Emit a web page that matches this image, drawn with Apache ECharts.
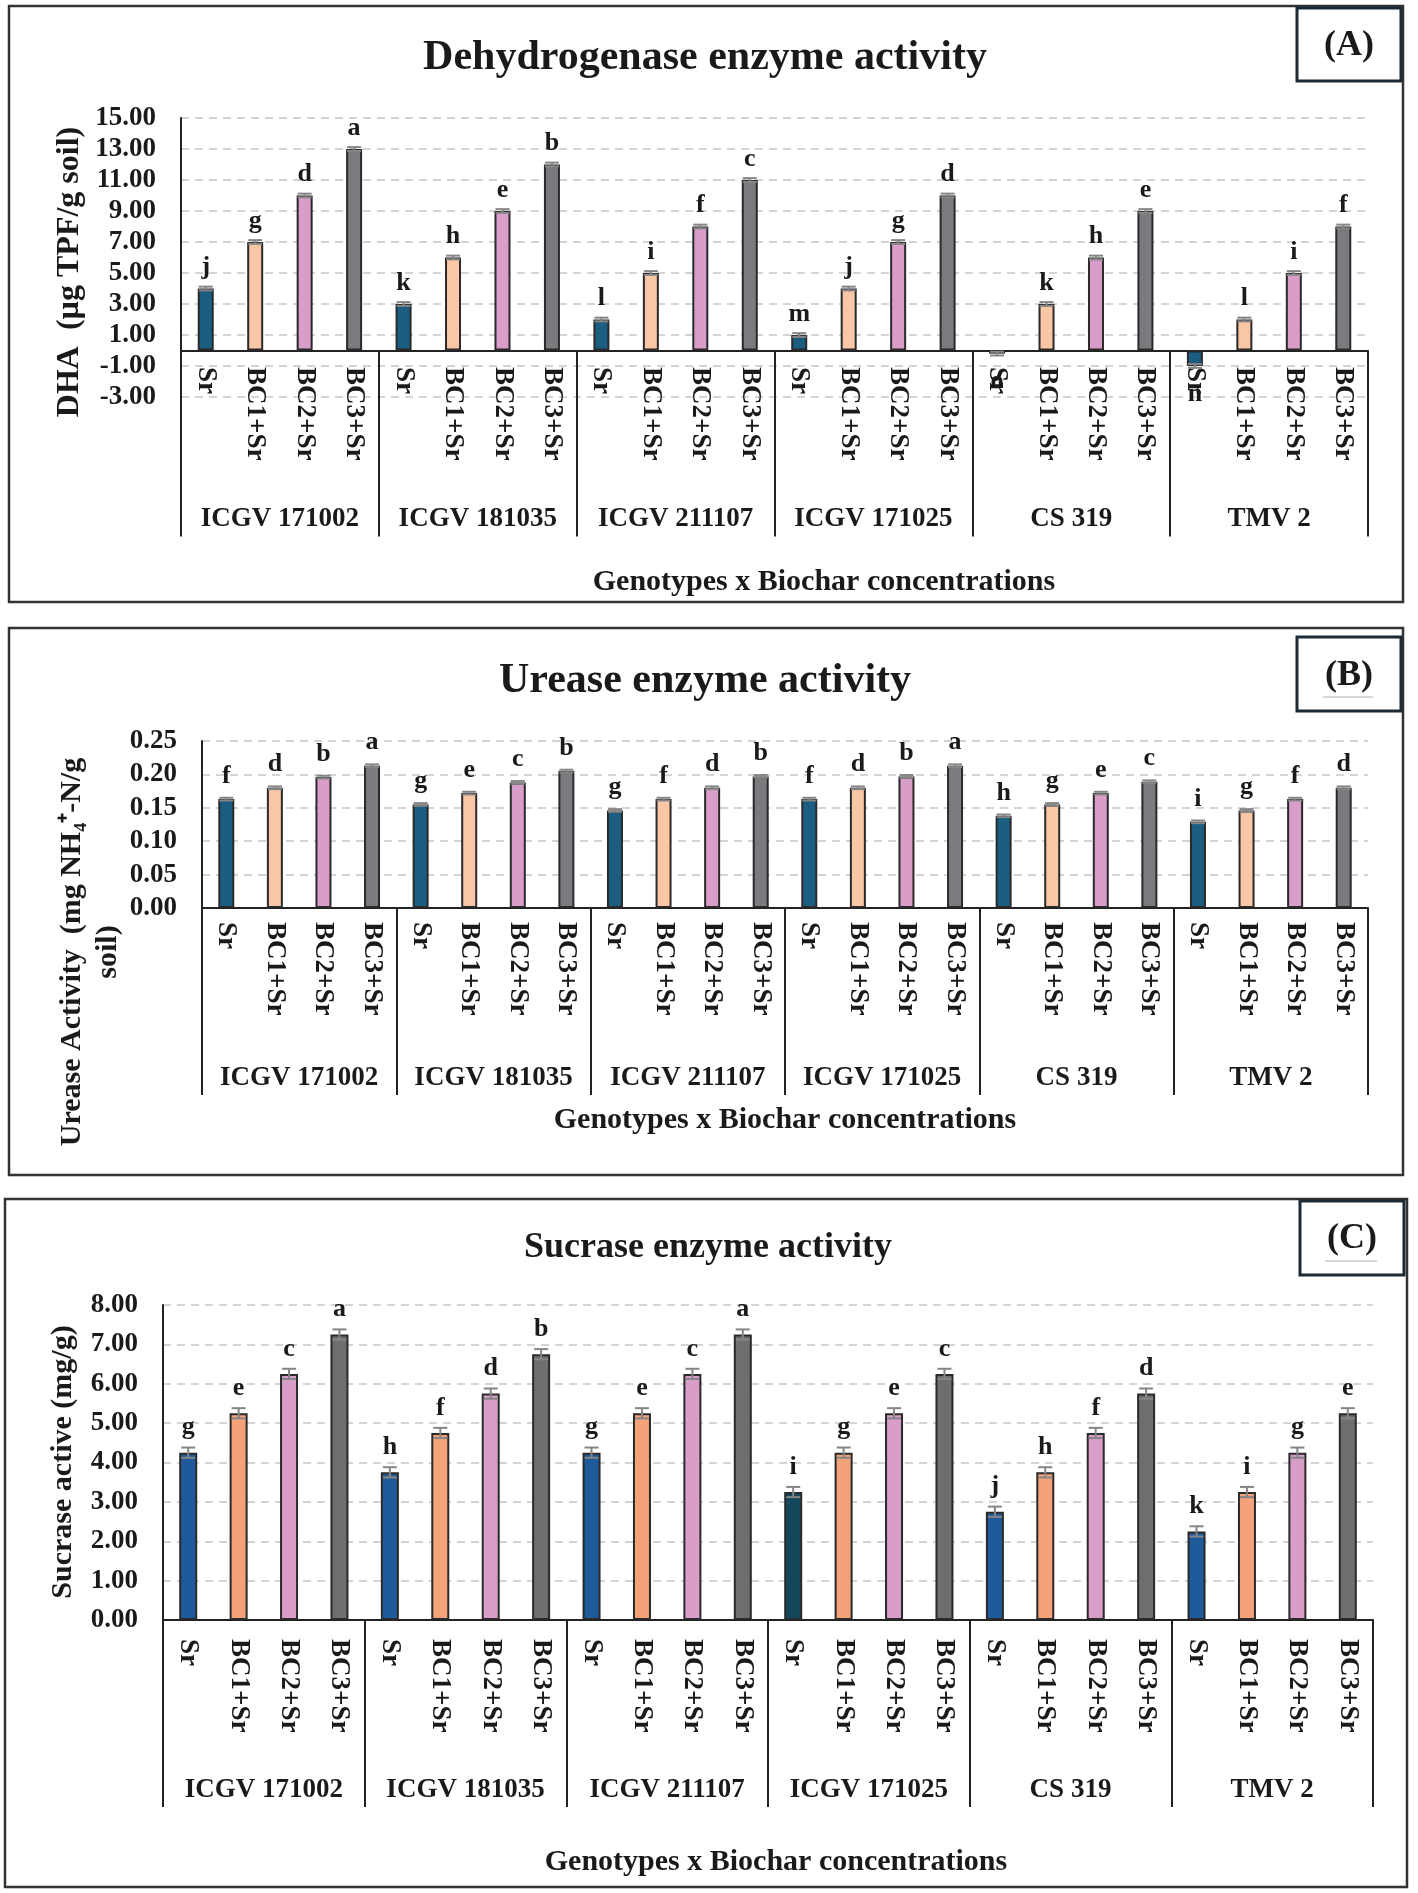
<!DOCTYPE html>
<html><head><meta charset="utf-8">
<script src="https://cdn.jsdelivr.net/npm/echarts@6/dist/echarts.min.js"></script>
<style>html,body{margin:0;padding:0;background:#fff}#c{width:1418px;height:1893px}</style>
</head><body><div id="c"></div>
<script>
// ---------------- DATA ----------------
const treatments = ['Sr', 'BC1+Sr', 'BC2+Sr', 'BC3+Sr'];
const genotypes = ['ICGV 171002', 'ICGV 181035', 'ICGV 211107', 'ICGV 171025', 'CS 319', 'TMV 2'];

const dhaTicks = [-3, 15, 2];
const dhaValues = [4.0, 7.0, 10.0, 13.0, 3.0, 6.0, 9.0, 12.0, 2.0, 5.0, 8.0, 11.0, 1.0, 4.0, 7.0, 10.0, -0.2, 3.0, 6.0, 9.0, -1.0, 2.0, 5.0, 8.0];
const dhaErrors = [0.12, 0.12, 0.12, 0.12, 0.12, 0.12, 0.12, 0.12, 0.12, 0.12, 0.12, 0.12, 0.12, 0.12, 0.12, 0.12, 0.12, 0.12, 0.12, 0.12, 0.12, 0.12, 0.12, 0.12];
const dhaLetters = ['j', 'g', 'd', 'a', 'k', 'h', 'e', 'b', 'l', 'i', 'f', 'c', 'm', 'j', 'g', 'd', 'o', 'k', 'h', 'e', 'n', 'l', 'i', 'f'];

const ureaseTicks = [0, 0.25, 0.05];
const ureaseValues = [0.163, 0.180, 0.196, 0.213, 0.155, 0.172, 0.188, 0.205, 0.146, 0.163, 0.180, 0.197, 0.163, 0.180, 0.197, 0.213, 0.138, 0.155, 0.172, 0.189, 0.129, 0.146, 0.163, 0.180];
const ureaseErrors = [0.002, 0.002, 0.002, 0.002, 0.002, 0.002, 0.002, 0.002, 0.002, 0.002, 0.002, 0.002, 0.002, 0.002, 0.002, 0.002, 0.002, 0.002, 0.002, 0.002, 0.002, 0.002, 0.002, 0.002];
const ureaseLetters = ['f', 'd', 'b', 'a', 'g', 'e', 'c', 'b', 'g', 'f', 'd', 'b', 'f', 'd', 'b', 'a', 'h', 'g', 'e', 'c', 'i', 'g', 'f', 'd'];

const sucraseTicks = [0, 8, 1];
const sucraseValues = [4.25, 5.25, 6.25, 7.25, 3.75, 4.75, 5.75, 6.75, 4.25, 5.25, 6.25, 7.25, 3.25, 4.25, 5.25, 6.25, 2.75, 3.75, 4.75, 5.75, 2.25, 3.25, 4.25, 5.25];
const sucraseErrors = [0.13, 0.13, 0.13, 0.13, 0.13, 0.13, 0.13, 0.13, 0.13, 0.13, 0.13, 0.13, 0.13, 0.13, 0.13, 0.13, 0.13, 0.13, 0.13, 0.13, 0.13, 0.13, 0.13, 0.13];
const sucraseLetters = ['g', 'e', 'c', 'a', 'h', 'f', 'd', 'b', 'g', 'e', 'c', 'a', 'i', 'g', 'e', 'c', 'j', 'h', 'f', 'd', 'k', 'i', 'g', 'e'];

// ---------------- STYLE ----------------
const FONT = '"Liberation Serif", "Times New Roman", serif';
const INK = '#1a1a1a';
const colorsAB = ['#1b5e82', '#f9c6a6', '#d99dca', '#7a7b7e'];
const colorsC = ['#1f5b9a', '#f4a27a', '#d99dca', '#6e6e70'];
const colorsCSrByGenotype = ['#1f5b9a', '#1f5b9a', '#1f5b9a', '#15475c', '#1f5b9a', '#1f5b9a'];

const categories = [];
genotypes.forEach(() => treatments.forEach(t => categories.push(t)));

const panels = [
  { grid: { left: 181, right: 50, top: 118, height: 279 }, ticks: dhaTicks, values: dhaValues, errors: dhaErrors, letters: dhaLetters,
    colors: i => colorsAB[i % 4], barWidth: 16, dec: 2, labMargin: -30, tickLen: 186, grpMargin: 109, letterDist: 8, negDist: 15 },
  { grid: { left: 202, right: 50, top: 741, height: 167 }, ticks: ureaseTicks, values: ureaseValues, errors: ureaseErrors, letters: ureaseLetters,
    colors: i => colorsAB[i % 4], barWidth: 16, dec: 2, labMargin: 14, tickLen: 187, grpMargin: 157, letterDist: 10, negDist: 12 },
  { grid: { left: 163, right: 45, top: 1305, height: 315 }, ticks: sucraseTicks, values: sucraseValues, errors: sucraseErrors, letters: sucraseLetters,
    colors: i => (i % 4 === 0 ? colorsCSrByGenotype[Math.floor(i / 4)] : colorsC[i % 4]), barWidth: 18, dec: 2, labMargin: 19, tickLen: 187, grpMargin: 157, letterDist: 12, negDist: 12 }
];

const grids = [], xAxes = [], yAxes = [], series = [];
panels.forEach((p, gi) => {
  grids.push(Object.assign({ containLabel: false }, p.grid));
  xAxes.push({
    type: 'category', gridIndex: gi, data: categories, position: 'bottom',
    axisLine: { show: true, onZero: true, onZeroAxisIndex: gi, lineStyle: { color: '#222', width: 2 } },
    axisTick: { show: false },
    axisLabel: { interval: 0, rotate: -90, margin: p.labMargin, fontSize: 27, fontWeight: 'bold', fontFamily: FONT, color: INK },
    splitLine: { show: false }
  });
  xAxes.push({
    type: 'category', gridIndex: gi, data: genotypes, position: 'bottom',
    axisLine: { show: false, onZero: true, onZeroAxisIndex: gi },
    axisTick: { show: true, interval: 0, length: p.tickLen, lineStyle: { color: '#222', width: 2 } },
    axisLabel: { interval: 0, margin: p.grpMargin, fontSize: 27, fontWeight: 'bold', fontFamily: FONT, color: INK },
    splitLine: { show: false }
  });
  yAxes.push({
    type: 'value', gridIndex: gi, min: p.ticks[0], max: p.ticks[1], interval: p.ticks[2],
    axisLine: { show: true, lineStyle: { color: '#222', width: 2 } },
    axisTick: { show: false },
    axisLabel: { margin: 25, fontSize: 27, fontWeight: 'bold', fontFamily: FONT, color: INK, formatter: v => v.toFixed(p.dec) },
    splitLine: { show: true, lineStyle: { color: '#d4d4d4', width: 2, type: [8, 6] } }
  });
  series.push({
    type: 'bar', xAxisIndex: gi * 2, yAxisIndex: gi, barWidth: p.barWidth, z: 3,
    data: p.values.map((v, i) => ({
      value: v,
      itemStyle: { color: p.colors(i), borderColor: '#2a2a2a', borderWidth: 2 },
      label: { position: v < 0 ? 'bottom' : 'top', distance: v < 0 ? p.negDist : p.letterDist }
    })),
    label: {
      show: true, fontSize: 26, fontWeight: 'bold', fontFamily: FONT, color: INK,
      formatter: prm => p.letters[prm.dataIndex]
    }
  });
  series.push({
    type: 'custom', xAxisIndex: gi * 2, yAxisIndex: gi, z: 5, silent: true,
    data: p.values.map((v, i) => [i, v - p.errors[i], v + p.errors[i]]),
    renderItem: (params, api) => {
      const x = api.value(0);
      const lo = api.coord([x, api.value(1)]);
      const hi = api.coord([x, api.value(2)]);
      const hw = 7;
      const st = { stroke: '#858585', lineWidth: 2 };
      return { type: 'group', children: [
        { type: 'line', shape: { x1: lo[0], y1: lo[1], x2: hi[0], y2: hi[1] }, style: st },
        { type: 'line', shape: { x1: hi[0] - hw, y1: hi[1], x2: hi[0] + hw, y2: hi[1] }, style: st },
        { type: 'line', shape: { x1: lo[0] - hw, y1: lo[1], x2: lo[0] + hw, y2: lo[1] }, style: st }
      ] };
    }
  });
});

function txt(x, y, text, size, rot, extra) {
  return { type: 'text', x: x, y: y, rotation: rot || 0, z: 10,
    style: Object.assign({ text: text, fontSize: size, fontWeight: 'bold', fontFamily: FONT, fill: INK,
      align: 'center', verticalAlign: 'middle', textAlign: 'center', textVerticalAlign: 'middle' }, extra || {}) };
}
function box(x, y, w, h, stroke, lw) {
  return { type: 'rect', shape: { x: x, y: y, width: w, height: h }, z: 1,
    style: { fill: 'none', stroke: stroke, lineWidth: lw } };
}
function hline(x1, x2, y, stroke, lw) {
  return { type: 'line', shape: { x1: x1, y1: y, x2: x2, y2: y }, z: 10, style: { stroke: stroke, lineWidth: lw } };
}

const graphics = [
  box(9, 6, 1394, 596, '#333', 2.5),
  box(9, 628, 1394, 547, '#333', 2.5),
  box(5, 1199, 1402, 688, '#333', 2.5),
  box(1297, 8, 104, 73, '#1c2a35', 3),
  box(1297, 637, 104, 74, '#1c2a35', 3),
  box(1300, 1201, 104, 74, '#1c2a35', 3),
  txt(1349, 46, '(A)', 36),
  txt(1349, 676, '(B)', 36),
  hline(1323, 1373, 697, '#a8b0b4', 1),
  txt(1352, 1239, '(C)', 36),
  hline(1325, 1377, 1261, '#a8b0b4', 1),
  txt(705, 58, 'Dehydrogenase enzyme activity', 42),
  txt(705, 681, 'Urease enzyme activity', 42),
  txt(708, 1248, 'Sucrase enzyme activity', 36),
  txt(824, 582, 'Genotypes x Biochar concentrations', 30),
  txt(785, 1120, 'Genotypes x Biochar concentrations', 30),
  txt(776, 1862, 'Genotypes x Biochar concentrations', 30),
  txt(70, 272, 'DHA  (\u00b5g TPF/g soil)', 32, Math.PI / 2),
  txt(90, 952, 'Urease Activity  (mg NH\u2084\u207a-N/g\nsoil)', 30, Math.PI / 2, { lineHeight: 36 }),
  txt(63, 1462, 'Sucrase active (mg/g)', 30, Math.PI / 2)
];

const chart = echarts.init(document.getElementById('c'), null, { renderer: 'canvas' });
chart.setOption({
  backgroundColor: '#ffffff',
  animation: false,
  grid: grids, xAxis: xAxes, yAxis: yAxes, series: series,
  graphic: { elements: graphics }
});
</script></body></html>
